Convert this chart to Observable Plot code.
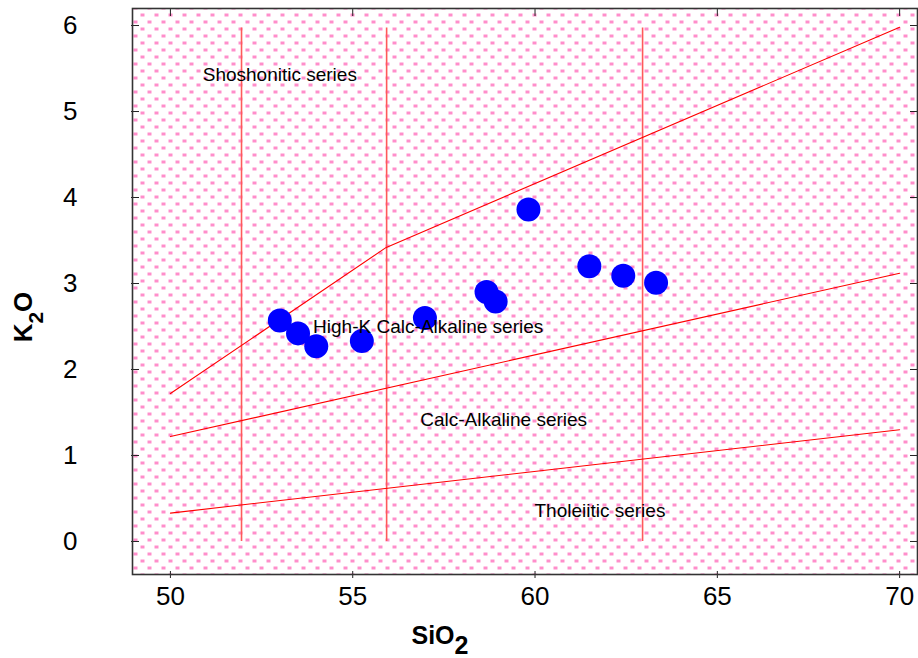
<!DOCTYPE html>
<html>
<head>
<meta charset="utf-8">
<script src="https://cdn.jsdelivr.net/npm/d3@7"></script>
<script src="https://cdn.jsdelivr.net/npm/@observablehq/plot@0.6"></script>
<style>
  html, body { margin: 0; padding: 0; background: #fff; }
  #chart svg { display: block; font-family: "Liberation Sans", Arial, sans-serif; }
</style>
</head>
<body>
<div id="chart"></div>
<script>
// Sample data (SiO2 vs K2O)
const sio2 = [53.0, 53.5, 54.0, 55.25, 56.98, 58.67, 58.92, 59.82, 61.49, 62.42, 63.32];
const k2o  = [2.57, 2.42, 2.27, 2.33, 2.60, 2.90, 2.79, 3.86, 3.20, 3.09, 3.01];

// Series boundary lines
const lineTholCA   = [[50, 0.33], [70, 1.30]];
const lineCAHK     = [[50, 1.22], [70, 3.12]];
const lineHKSho    = [[50, 1.72], [55.92, 3.42], [70, 5.98]];
const verticals    = [51.95, 55.93, 62.95];
const verticalTop  = 5.97;

// Field labels
const labelText = ["Shoshonitic series", "High-K Calc-Alkaline series", "Calc-Alkaline series", "Tholeiitic series"];
const labelX    = [53.0, 57.07, 59.14, 61.78];
const labelY    = [5.42, 2.50, 1.41, 0.35];

// Ticks
const xTicks = [50, 55, 60, 65, 70];
const yTicks = [0, 1, 2, 3, 4, 5, 6];

const points = sio2.map((x, i) => ({x, y: k2o[i]}));
const labels = labelText.map((t, i) => ({t, x: labelX[i], y: labelY[i]}));
const toPts = (arr) => arr.map(([x, y]) => ({x, y}));
const boundaries = [lineTholCA, lineCAHK, lineHKSho].map(toPts);
const fmt = d3.format("d");

const chart = Plot.plot({
  width: 918,
  height: 658,
  marginLeft: 132,
  marginRight: 1,
  marginTop: 8,
  marginBottom: 84,
  style: {fontFamily: "Liberation Sans, Arial, sans-serif", background: "white"},
  x: {domain: [48.96, 70.49], ticks: xTicks},
  y: {domain: [-0.384, 6.198], ticks: yTicks},
  marks: [
    Plot.frame({fill: "url(#dotpat)", stroke: null}),
    // vertical reference lines
    Plot.ruleX(verticals, {x: d => d, y1: 0, y2: verticalTop, stroke: "#ff5a5a", strokeWidth: 1.6}),
    // boundary lines
    ...boundaries.map(b => Plot.line(b, {x: "x", y: "y", stroke: "#ff0000", strokeWidth: 1.1})),
    // data points
    Plot.dot(points, {x: "x", y: "y", r: 12, fill: "#0000ff", stroke: null}),
    // field labels
    Plot.text(labels, {x: "x", y: "y", text: "t", fontSize: 19, fill: "#000"}),
    // axes
    Plot.axisX({anchor: "bottom", ticks: xTicks, tickSize: 0, tickPadding: 12, fontSize: 26, tickFormat: fmt, label: null, color: "#000"}),
    Plot.axisX({anchor: "bottom", ticks: xTicks, tickSize: 7, dy: -3, tickFormat: () => "", label: null, stroke: "#222"}),
    Plot.axisX({anchor: "top", ticks: xTicks, tickSize: 7, dy: 7, tickFormat: () => "", label: null, stroke: "#222"}),
    Plot.axisY({anchor: "left", ticks: yTicks, tickSize: 0, tickPadding: 55, fontSize: 26, tickFormat: fmt, label: null, color: "#000"}),
    Plot.axisY({anchor: "left", ticks: yTicks, tickSize: 8, dx: 7, tickFormat: () => "", label: null, stroke: "#222"}),
    Plot.axisY({anchor: "right", ticks: yTicks, tickSize: 8, dx: -8, tickFormat: () => "", label: null, stroke: "#222"}),
    Plot.frame({stroke: "#333", strokeWidth: 1.6})
  ]
});

// pattern definition
const svg = d3.select(chart);
const defs = svg.insert("defs", ":first-child");
const pat = defs.append("pattern")
  .attr("id", "dotpat")
  .attr("patternUnits", "userSpaceOnUse")
  .attr("x", 0).attr("y", 6)
  .attr("width", 14).attr("height", 14);
pat.append("rect").attr("x", 0).attr("y", 0).attr("width", 14).attr("height", 14).attr("fill", "#ffffff");
pat.append("rect").attr("x", 7).attr("y", 0).attr("width", 4).attr("height", 3).attr("fill", "#ff8ecb");
pat.append("rect").attr("x", 0).attr("y", 7).attr("width", 4).attr("height", 3).attr("fill", "#ff8ecb");

// axis titles with subscripts
const xt = svg.append("text")
  .attr("x", 440).attr("y", 644)
  .attr("font-size", 25).attr("font-weight", "bold").attr("fill", "#000")
  .attr("font-family", "Liberation Sans, Arial, sans-serif");
xt.append("tspan").text("SiO");
xt.append("tspan").attr("dy", 10).text("2");

const yt = svg.append("text")
  .attr("transform", "translate(32,317) rotate(-90)")
  .attr("font-size", 26).attr("font-weight", "bold").attr("fill", "#000")
  .attr("font-family", "Liberation Sans, Arial, sans-serif");
yt.append("tspan").text("K");
yt.append("tspan").attr("dy", 11).attr("font-size", 21).text("2");
yt.append("tspan").attr("dy", -11).text("O");

document.getElementById("chart").appendChild(chart);
</script>
</body>
</html>
